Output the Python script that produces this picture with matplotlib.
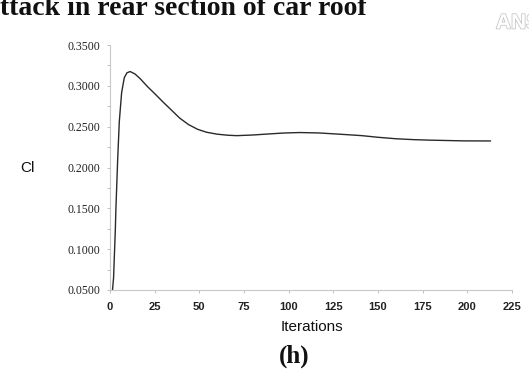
import matplotlib
matplotlib.use("Agg")
import matplotlib.pyplot as plt
import matplotlib.patheffects as pe
from matplotlib.ticker import FormatStrFormatter, MultipleLocator


# lift coefficient history
iterations = [1, 2, 3, 3.3, 4.3, 5.2, 6.5, 8, 9.5, 11.3, 14, 17, 21, 25, 30, 35,
              39, 44, 49, 54, 60, 66, 71, 80, 89, 97, 106, 117, 123, 132, 141,
              150, 160, 170, 179, 198, 213]
cl = [0.040, 0.065, 0.125, 0.149, 0.210, 0.256, 0.2915, 0.310, 0.316, 0.3175,
      0.3145, 0.3085, 0.2990, 0.2905, 0.2795, 0.2690, 0.2605, 0.2525, 0.2468,
      0.2432, 0.2408, 0.2395, 0.2390, 0.2398, 0.2411, 0.2422, 0.2428, 0.2423,
      0.2415, 0.2403, 0.2390, 0.2370, 0.2352, 0.2341, 0.2335, 0.2326, 0.2325]

x_ticks = [0, 25, 50, 75, 100, 125, 150, 175, 200, 225]
y_ticks = [0.05, 0.10, 0.15, 0.20, 0.25, 0.30, 0.35]

W, H = 529, 369


def main():
    fig = plt.figure(figsize=(W / 100, H / 100), dpi=100)
    ax = fig.add_axes([110 / W, (H - 290) / H, (512 - 110) / W, (290 - 45) / H])

    ax.plot(iterations, cl, color="#2a2a2a", lw=1.0, solid_capstyle="round",
            solid_joinstyle="round")

    ax.set_xlim(0, 225)
    ax.set_ylim(0.05, 0.35)
    ax.set_xticks(x_ticks)
    ax.set_yticks(y_ticks)
    ax.yaxis.set_minor_locator(MultipleLocator(0.025))
    ax.yaxis.set_major_formatter(FormatStrFormatter("%.4f"))

    for side in ("top", "right"):
        ax.spines[side].set_visible(False)
    for side in ("left", "bottom"):
        ax.spines[side].set_color("#c8c8c8")
        ax.spines[side].set_linewidth(0.8)

    ax.tick_params(axis="both", which="both", color="#c0c0c0", length=2.5, width=0.7)
    ax.tick_params(axis="x", pad=6)
    ax.tick_params(axis="y", pad=4.5)
    for lab in ax.get_xticklabels():
        lab.set_fontfamily("Liberation Sans")
        lab.set_fontweight("bold")
        lab.set_fontsize(8)
        lab.set_color("#222222")
    for lab in ax.get_yticklabels():
        lab.set_fontfamily("Liberation Serif")
        lab.set_fontsize(8.5)
        lab.set_color("#222222")

    fig.text(27 / W, 1 - 168 / H, "Cl", family="Liberation Sans", fontsize=11,
             ha="center", va="center", color="#111111")
    fig.text(312 / W, 1 - 327 / H, "Iterations", family="Liberation Sans",
             fontsize=11, ha="center", va="center", color="#111111")

    # page text around the figure
    fig.text(367 / W, 1 - 15 / H, "attack in rear section of car roof",
             family="Liberation Serif", fontweight="bold", fontsize=20,
             ha="right", va="baseline", color="#111111")
    fig.text(294 / W, 6 / H, "(h)", family="Liberation Serif", fontweight="bold",
             fontsize=18, ha="center", va="baseline", color="#111111")
    fig.text(496 / W, 1 - 23 / H, "ANSYS", family="Liberation Sans", fontweight="bold",
             fontsize=15, ha="left", va="center", color="white",
             path_effects=[pe.withStroke(linewidth=1.2, foreground="#c8c8c8")])

    fig.savefig("out.png", dpi=100)
    plt.close(fig)


if __name__ == "__main__":
    main()
